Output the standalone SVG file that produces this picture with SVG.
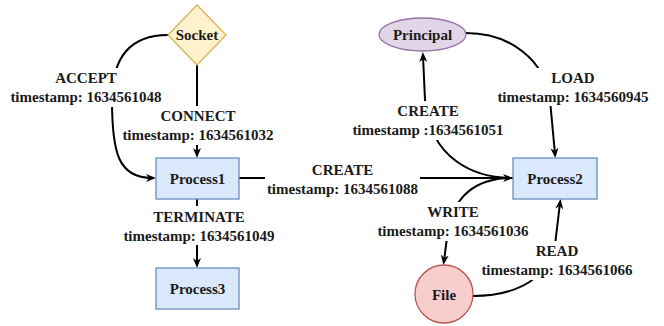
<svg xmlns="http://www.w3.org/2000/svg" width="664" height="326" viewBox="0 0 664 326">
<style>
.edge{fill:none;stroke:#000;stroke-width:2}
.arr{marker-end:url(#ah)}
.lbg{fill:#fff}
.proc{fill:#dae8fc;stroke:#6c8ebf;stroke-width:1.3}
</style>
<defs>
<marker id="ah" viewBox="0 0 10 8" markerWidth="10" markerHeight="8" refX="6" refY="4" orient="auto" markerUnits="userSpaceOnUse">
<path d="M0,0 L10,4 L0,8 L3,4 z" fill="#000"/>
</marker>
</defs>
<g font-family="Liberation Serif" font-weight="bold" font-size="15" fill="#1a1a1a" text-anchor="middle">
<g id="connectors">
<path class="edge arr" d="M168,35 C128,35 112,60 112,100 C112,152 118,178 152,178"/>
<path class="edge arr" d="M197,65 L197,154"/>
<path class="edge arr" d="M197,199 L197,264"/>
<path class="edge arr" d="M239,178 L509,178"/>
<path class="edge arr" d="M513,178 C475,178 430,160 425,100 L423,56"/>
<path class="edge arr" d="M466,33 C510,33 545,60 550,100 L555,154"/>
<path class="edge arr" d="M513,178 C480,178 455,192 448,230 L444,261"/>
<path class="edge arr" d="M473,296 C520,296 550,275 555,245 L560,203"/>
<g id="labels">
<rect class="lbg" x="9" y="68" width="155" height="39"/>
<text x="86" y="83">ACCEPT</text>
<text x="86" y="102">timestamp: 1634561048</text>
<rect class="lbg" x="121" y="106" width="155" height="39"/>
<text x="198" y="121">CONNECT</text>
<text x="198" y="140">timestamp: 1634561032</text>
<rect class="lbg" x="122" y="206" width="155" height="39"/>
<text x="199" y="222">TERMINATE</text>
<text x="199" y="241">timestamp: 1634561049</text>
<rect class="lbg" x="265" y="160" width="155" height="39"/>
<text x="342.5" y="175">CREATE</text>
<text x="342.5" y="194">timestamp: 1634561088</text>
<rect class="lbg" x="351" y="101" width="155" height="39"/>
<text x="428" y="116">CREATE</text>
<text x="428" y="135">timestamp :1634561051</text>
<rect class="lbg" x="496" y="68" width="155" height="38"/>
<text x="573" y="83">LOAD</text>
<text x="573" y="102">timestamp: 1634560945</text>
<rect class="lbg" x="376" y="202" width="155" height="39"/>
<text x="453" y="217">WRITE</text>
<text x="453" y="236">timestamp: 1634561036</text>
<rect class="lbg" x="480" y="241" width="155" height="39"/>
<text x="557" y="256">READ</text>
<text x="557" y="275">timestamp: 1634561066</text>
</g>
</g>
<g id="socket">
<polygon points="197,5 226,35 197,65 168,35" fill="#fff2cc" stroke="#d6b656" stroke-width="1.3"/>
<text x="197" y="40">Socket</text>
</g>
<g id="process1">
<rect class="proc" x="156" y="158" width="83" height="41"/>
<text x="197.5" y="183.5">Process1</text>
</g>
<g id="process3">
<rect class="proc" x="156" y="268" width="83" height="41"/>
<text x="197.5" y="293.5">Process3</text>
</g>
<g id="process2">
<rect class="proc" x="513" y="158" width="84" height="41"/>
<text x="555" y="183.5">Process2</text>
</g>
<g id="principal">
<ellipse cx="422.5" cy="34.5" rx="43.5" ry="16.5" fill="#e1d5e7" stroke="#9673a6" stroke-width="1.3"/>
<text x="422.5" y="39.5">Principal</text>
</g>
<g id="file">
<circle cx="444" cy="294" r="29" fill="#f8cecc" stroke="#b85450" stroke-width="1.3"/>
<text x="444" y="299.5">File</text>
</g>
</g>
</svg>
